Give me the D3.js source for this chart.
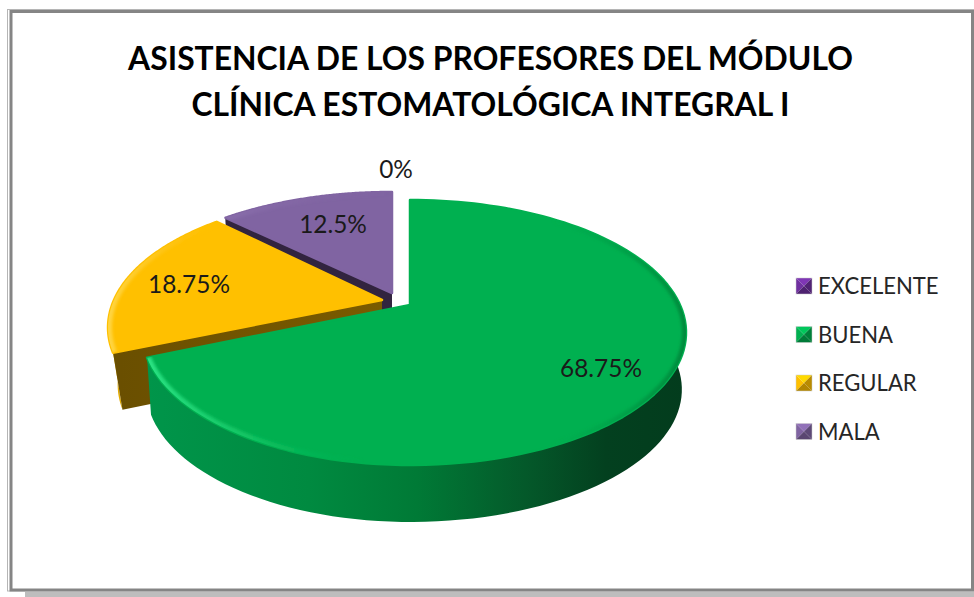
<!DOCTYPE html>
<html>
<head>
<meta charset="utf-8">
<script src="https://cdnjs.cloudflare.com/ajax/libs/d3/7.8.5/d3.min.js"></script>
<style>html,body{margin:0;padding:0;background:#fff;overflow:hidden}svg{display:block}</style>
</head>
<body>
<svg id="c" width="974" height="597"></svg>
<script>
const titleLines = ["ASISTENCIA DE LOS PROFESORES DEL MÓDULO", "CLÍNICA ESTOMATOLÓGICA INTEGRAL I"];
const categories = ["EXCELENTE", "BUENA", "REGULAR", "MALA"];
const values = [0, 68.75, 18.75, 12.5];
const valueLabels = ["0%", "68.75%", "18.75%", "12.5%"];
const colors = ["#7030a0", "#00b050", "#ffc000", "#8064a2"];

const svg = d3.select("#c");
const defs = svg.append("defs");
const FONT = "Lato, Carlito, Calibri, sans-serif";

// frame
svg.append("rect").attr("x", 25).attr("y", 592).attr("width", 949).attr("height", 5).attr("fill", "#bdbdbd");
svg.append("rect").attr("x", 7.5).attr("y", 9.5).attr("width", 967).attr("height", 581.5).attr("fill", "none").attr("stroke", "#b5b5b5").attr("stroke-width", 1);
svg.append("rect").attr("x", 11).attr("y", 11.5).attr("width", 961.5).attr("height", 578.5).attr("fill", "#fff").attr("stroke", "#858585").attr("stroke-width", 3);

// title
svg.append("g").selectAll("text").data(titleLines).join("text")
  .attr("x", 490.5).attr("y", (d, i) => 70 + i * 46)
  .attr("text-anchor", "middle").attr("font-family", FONT).attr("font-weight", 700)
  .attr("font-size", 31.85).attr("fill", "#000").text(d => d);

// perspective disc
const PK = 0.2075, PB = 126.8, DEPTH = 57;
const pie = d3.pie().sort(null).value(d => d).startAngle(0).endAngle(2 * Math.PI);
const arcs = pie(values);
// per-slice placement, indexed like categories
const place = [
  null,
  { x: 410, y: 305, al: 262, ar: 270, b: 1, s: 0.985 },
  { x: 382, y: 300, al: 268, ar: 268, b: 1, s: 0.965 },
  { x: 392, y: 293, al: 270, ar: 270, b: 0.962, s: 0.985 }
];
function project(theta, p, r = 1) {
  const u = Math.sin(theta) * r, v = -Math.cos(theta) * r, w = 1 - PK * v;
  return [p.x + (u < 0 ? p.al : p.ar) * u / w, p.y + p.b * PB * v / w];
}
const lower = (pt, p) => [p.x + p.s * (pt[0] - p.x), pt[1] + DEPTH];
const arcPts = (a0, a1, p) => d3.range(0, 121).map(i => project(a0 + (a1 - a0) * i / 120, p));
const line = d3.line();

function hGrad(id, stops, x1, x2) {
  const g = defs.append("linearGradient").attr("id", id).attr("gradientUnits", "userSpaceOnUse")
    .attr("x1", x1).attr("x2", x2).attr("y1", 0).attr("y2", 0);
  stops.forEach(s => g.append("stop").attr("offset", s[0]).attr("stop-color", s[1]).attr("stop-opacity", s[2] === undefined ? 1 : s[2]));
  return `url(#${id})`;
}
defs.append("filter").attr("id", "soft").append("feGaussianBlur").attr("stdDeviation", 1.8);

const wallFill = [
  null,
  hGrad("w1", [[0, "#00954a"], [0.3, "#008a40"], [0.5, "#007a36"], [0.7, "#04592a"], [0.85, "#03401f"], [1, "#033c1d"]], 147, 687),
  "#e2aa00",
  "#32243f"
];
const cutFill = [null, "#00803a", hGrad("cy", [[0, "#6a4f00"], [1, "#7a5b00"]], 120, 380), "#32243f"];
const bevel = [
  null,
  hGrad("b1", [[0, "#2be384"], [0.2, "#14c766", 0.8], [0.4, "#00b050", 0], [0.75, "#00a048", 0], [1, "#008a3c", 1]], 147, 687),
  hGrad("b2", [[0, "#ffd84a", 0.9], [0.4, "#ffd040", 0.4], [1, "#ffc000", 0]], 108, 230),
  hGrad("b3", [[0, "#9a80bd", 0.3], [1, "#8064a2", 0]], 225, 392)
];

const order = [3, 2, 1];
order.forEach(i => {
  const a = arcs[i], p = place[i];
  const g = svg.append("g").attr("class", "slice");
  const top = arcPts(a.startAngle, a.endAngle, p);
  const outerBottom = top.map(t => lower(t, p)).reverse();
  g.append("path").attr("d", line(top.concat(outerBottom)) + "Z").attr("fill", wallFill[i]);
  // cut face along the clockwise-first edge of the slice
  const corner = project(a.startAngle, p);
  const apex = [p.x, p.y];
  g.append("path").attr("d", line([apex, corner, lower(corner, p), lower(apex, p)]) + "Z").attr("fill", cutFill[i]);
  const outline = [apex].concat(top);
  const d = line(outline) + "Z";
  g.append("path").attr("d", d).attr("fill", colors[i]).attr("stroke", colors[i]).attr("stroke-width", 2.5).attr("stroke-linejoin", "round");
  defs.append("clipPath").attr("id", "cp" + i).append("path").attr("d", d);
  g.append("g").attr("clip-path", `url(#cp${i})`).append("path").attr("d", line(top)).attr("fill", "none")
    .attr("stroke", bevel[i]).attr("stroke-width", 8).attr("filter", "url(#soft)");
});

// value labels
const labelAt = [[396, 169], [601, 368], [189, 284], [333, 224]];
svg.append("g").selectAll("text").data(valueLabels).join("text")
  .attr("x", (d, i) => labelAt[i][0]).attr("y", (d, i) => labelAt[i][1])
  .attr("dy", "0.35em").attr("text-anchor", "middle").attr("font-family", FONT)
  .attr("font-size", 24.4).attr("fill", "#1a1a1a").text(d => d);

// legend
const legendY = d3.scalePoint().domain(categories).range([286, 431.5]);
const lg = svg.append("g").selectAll("g").data(categories).join("g")
  .attr("transform", d => `translate(796,${legendY(d)})`);
const S = 16, H = S / 2;
const facets = [
  { pts: [[0, -H], [S, -H], [H, 0]], f: c => d3.rgb(c).brighter(0.35) },
  { pts: [[0, -H], [0, H], [H, 0]], f: c => d3.rgb(c) },
  { pts: [[S, -H], [S, H], [H, 0]], f: c => d3.rgb(c).darker(0.9) },
  { pts: [[0, H], [S, H], [H, 0]], f: c => d3.rgb(c).darker(1) }
];
lg.each(function (d, i) {
  const el = d3.select(this);
  facets.forEach(k => el.append("path").attr("d", line(k.pts) + "Z").attr("fill", k.f(colors[i]).formatHex()));
  el.append("rect").attr("x", 0).attr("y", -H).attr("width", S).attr("height", S).attr("fill", "none").attr("stroke", "#ccc").attr("stroke-width", 0.5);
  el.append("text").attr("transform", "translate(22,0) scale(0.96,1)").attr("dy", "0.35em").attr("font-family", FONT).attr("font-size", 23).attr("fill", "#262626").text(d);
});
</script>
</body>
</html>
